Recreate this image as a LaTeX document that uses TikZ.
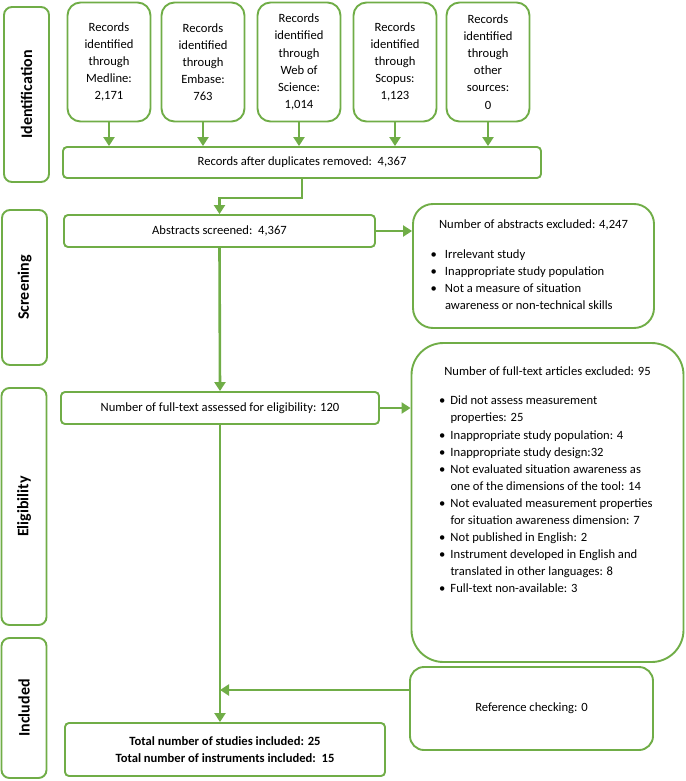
\documentclass[tikz,border=0pt]{standalone}
\usepackage{fontspec}
\setmainfont{Carlito}
\usetikzlibrary{arrows.meta,positioning}
\definecolor{pgreen}{RGB}{112,173,71}
\newlength\lindent
\newlength\lgap
\newcommand\litem[1]{\par\noindent\hangindent=\dimexpr\lindent+\lgap\relax\hangafter=1%
  \hspace*{\lindent}\makebox[\lgap][l]{\textbullet}#1}

\begin{document}
\begin{tikzpicture}[x=1pt,y=-1pt,
  every node/.style={font=\fontsize{12.6pt}{17.1pt}\selectfont},
  stage/.style={draw=pgreen, line width=1.9pt, rounded corners=8pt, minimum height=45pt,
    rotate=90, font=\fontsize{16pt}{18pt}\selectfont\bfseries},
  src/.style={draw=pgreen, line width=1.9pt, rounded corners=13pt, minimum width=83pt,
    minimum height=119pt, align=center, inner sep=2pt},
  flat/.style={draw=pgreen, line width=1.9pt, rounded corners=4pt, align=center},
  excl/.style={draw=pgreen, line width=1.9pt, inner sep=0pt},
  arr/.style={draw=pgreen, line width=2.6pt, -{Triangle[length=9pt,width=11pt]}}
]
  \useasboundingbox (0,0) rectangle (685,781);

  % stages
  \node[stage, minimum width=175pt] (idn) at (26.5,94.5) {Identification};
  \node[stage, minimum width=155pt] (scr) at (24.5,287.5) {Screening};
  \node[stage, minimum width=237pt] (elg) at (24,506.5) {Eligibility};
  \node[stage, minimum width=140pt] (inc) at (24,708) {Included};

  % sources
  \foreach \i/\x/\lab in {1/109/{Records\\identified\\through\\Medline:\\2,171},
      2/203/{Records\\identified\\through\\Embase:\\763},
      3/299/{Records\\identified\\through\\Web of\\Science:\\1,014},
      4/395/{Records\\identified\\through\\Scopus:\\1,123},
      5/488/{Records\\identified\\through\\other\\sources:\\0}}
    \node[src] (s\i) at (\x,62) {\lab};

  \node[flat, minimum width=478pt, minimum height=31pt] (dup) at (302,162.5)
    {Records after duplicates removed:\ \ 4,367};
  \foreach \i in {1,...,5}
    \draw[arr] (s\i.south) -- (s\i.south |- dup.north);

  \node[flat, minimum width=311pt, minimum height=32pt] (abs) at (219.5,231)
    {Abstracts screened:\ \ 4,367};
  \draw[arr] (dup.south) -- ++(0,19) -| (abs.north);

  \node[excl, rounded corners=20pt] (ex1) at (533.5,266) {\parbox[c][124pt][t]{241pt}{%
    \setlength\lindent{17.5pt}\setlength\lgap{14.5pt}\raggedright
    \vspace*{16pt}{\centering Number of abstracts excluded: 4,247\par}\vspace{12.5pt}
    \litem{Irrelevant study}
    \litem{Inappropriate study population}
    \litem{Not a measure of situation\newline awareness or non-technical skills}\par}};
  \draw[arr] (abs.east) -- (abs.east -| ex1.west);

  \node[flat, minimum width=318pt, minimum height=32pt] (ft) at (220,408)
    {Number of full-text assessed for eligibility: 120};
  \draw[arr] (abs.south) -- (ft.north);

  \node[excl, rounded corners=32pt] (ex2) at (547.5,502.5) {\parbox[c][319pt][t]{272pt}{%
    \setlength\lindent{27.5pt}\setlength\lgap{11.5pt}\raggedright
    \vspace*{24pt}{\centering Number of full-text articles excluded: 95\par}\vspace{12pt}
    \litem{Did not assess measurement\newline properties: 25}
    \litem{Inappropriate study population: 4}
    \litem{Inappropriate study design:32}
    \litem{Not evaluated situation awareness as\newline one of the dimensions of the tool: 14}
    \litem{Not evaluated measurement properties\newline for situation awareness dimension: 7}
    \litem{Not published in English: 2}
    \litem{Instrument developed in English and\newline translated in other languages: 8}
    \litem{Full-text non-available: 3}\par}};
  \draw[arr] (ft.east) -- (ft.east -| ex2.west);

  \node[flat, rounded corners=14pt, minimum width=243pt, minimum height=83pt] (ref) at (531.5,708.5)
    {Reference checking: 0};
  \node[flat, minimum width=320pt, minimum height=53pt, font=\fontsize{12.6pt}{17.1pt}\selectfont\bfseries]
    (fin) at (225,749.5)
    {Total number of studies included: 25\\Total number of instruments included:\ \ 15};
  \coordinate (jy) at (300,690);
  \draw[arr] (ft.south) -- (ft.south |- fin.north);
  \draw[arr] (ref.west |- jy) -- (ft.south |- jy);
\end{tikzpicture}
\end{document}
